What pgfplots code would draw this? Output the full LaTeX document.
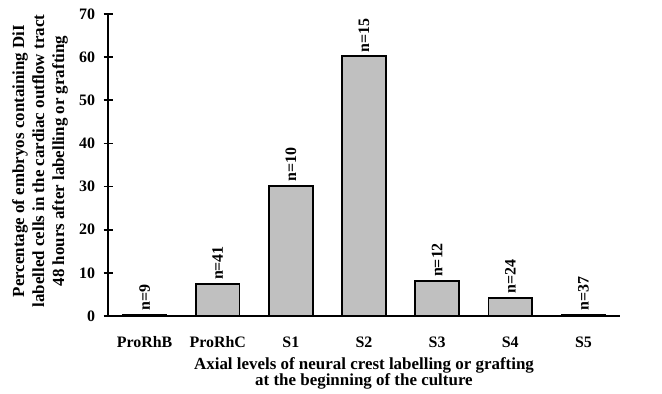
\documentclass[border=0pt]{standalone}
\usepackage{fontspec}
\setmainfont{Liberation Serif}
\usepackage{pgfplots}
\usetikzlibrary{calc}
\pgfplotsset{compat=1.18}
\begin{document}
\begin{tikzpicture}
\begin{axis}[
  name=ax,
  scale only axis,
  width=512bp, height=302bp,
  xmin=-0.5, xmax=6.5,
  ymin=0, ymax=70,
  ytick={0,10,...,70},
  xtick={0,...,6},
  xticklabels={ProRhB,ProRhC,S1,S2,S3,S4,S5},
  axis x line=bottom, axis y line=left,
  axis line style={line width=1.6pt,-},
  major tick length=9bp,
  ytick style={line width=1.6pt, black},
  ytick align=center,
  xtick style={draw=none},
  tick label style={font=\bfseries\fontsize{16}{18}\selectfont},
  /pgf/number format/assume math mode=true,
  xticklabel style={anchor=base, yshift=-27bp},
  yticklabel style={anchor=east, xshift=-5bp},
  xlabel={Axial levels of neural crest labelling or grafting\\at the beginning of the culture},
  xlabel style={font=\bfseries\fontsize{17}{16}\selectfont, align=center,
    at={(axis description cs:0.5,-0.19)}, anchor=center},
  ylabel={Percentage of embryos containing DiI\\labelled cells in the cardiac outflow tract\\48 hours after labelling or grafting},
  ylabel style={font=\bfseries\fontsize{17}{20}\selectfont, align=center,
    at={(axis description cs:-0.1328,0.513)}, anchor=center, rotate=0},
  clip=false,
]
\addplot[ybar, bar width=0.6, fill={rgb,255:red,192;green,192;blue,192}, draw=black, line width=1.6pt,
  point meta=explicit symbolic,
  nodes near coords,
  nodes near coords style={rotate=90, anchor=west, font=\bfseries\fontsize{16}{18}\selectfont, black}]
  table[meta=n] {
x y n
0 0.3 n=9
1 7.4 n=41
2 30.2 n=10
3 60.2 n=15
4 8.1 n=12
5 4.2 n=24
6 0.3 n=37
};
\end{axis}
\pgfresetboundingbox
\path[use as bounding box] ($(ax.south west)+(-108bp,-77bp)$) rectangle ($(ax.north east)+(42bp,14bp)$);
\end{tikzpicture}
\end{document}
